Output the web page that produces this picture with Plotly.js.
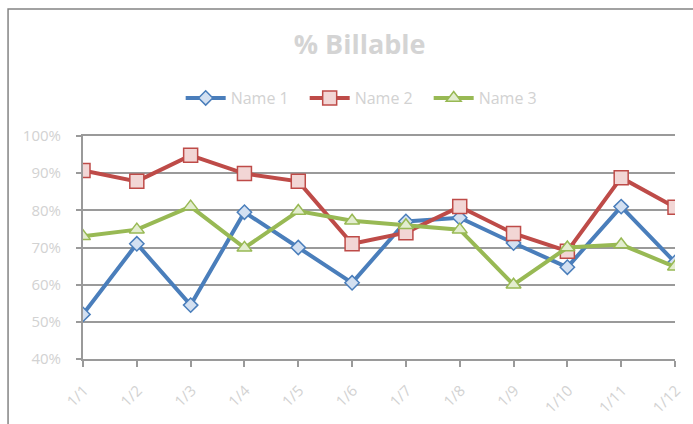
<!DOCTYPE html>
<html>
<head>
<meta charset="utf-8">
<script src="https://cdn.plot.ly/plotly-3.0.1.min.js"></script>
<style>html,body{margin:0;padding:0;background:#fff;}#chart{width:693px;height:424px;}</style>
</head>
<body>
<div id="chart"></div>
<script>
const categories = ["1/1","1/2","1/3","1/4","1/5","1/6","1/7","1/8","1/9","1/10","1/11","1/12"];
const name1 = [0.52,0.71,0.545,0.795,0.70,0.605,0.77,0.78,0.712,0.647,0.81,0.66];
const name2 = [0.907,0.878,0.948,0.899,0.878,0.71,0.74,0.81,0.738,0.69,0.888,0.808];
const name3 = [0.73,0.748,0.81,0.699,0.798,0.772,0.76,0.748,0.60,0.70,0.708,0.648];
const seriesNames = ["Name 1","Name 2","Name 3"];
const yTicks = [0.4,0.5,0.6,0.7,0.8,0.9,1.0];

const colors = ["#4A7EBB","#BE4B48","#98B954"];
const fills = ["#D3E0F1","#F2D6D5","#E3EDCF"];
const symbols = ["diamond","square","triangle-up"];
const sizes = [11,14,13];
const data = [name1,name2,name3].map((vals,i)=>({
  type:"scatter", mode:"lines+markers", name:seriesNames[i],
  x: categories.map((c,j)=>j), y: vals,
  line:{color:colors[i], width:4},
  marker:{symbol:symbols[i], size:sizes[i], color:fills[i], line:{color:colors[i], width:1.5}}
}));

const gridCol = "#9A9A9A";
const txtCol = "#D2D2D2";
const fam = "Open Sans, Liberation Sans, sans-serif";
const layout = {
  width:693, height:424,
  margin:{l:83, r:17.5, t:136, b:65},
  paper_bgcolor:"#fff", plot_bgcolor:"#fff",
  font:{family:fam, color:txtCol, size:15},
  title:{text:"<b>% Billable</b>", x:0.519, xanchor:"center", y:0.896, yanchor:"middle",
         font:{size:27, color:"#D4D4D4", family:fam}},
  showlegend:true,
  legend:{orientation:"h", x:0.165, xanchor:"left", y:1.17, yref:"paper", yanchor:"middle",
          font:{size:16, color:txtCol}, itemwidth:40, entrywidth:69, entrywidthmode:"pixels",
          tracegroupgap:0},
  xaxis:{range:[0,11], tickmode:"array", tickvals:categories.map((c,j)=>j), ticktext:categories,
         tickangle:-45, ticks:"outside", ticklen:6, tickcolor:gridCol, tickwidth:2,
         showline:true, mirror:true, linecolor:gridCol, linewidth:2, showgrid:false, zeroline:false,
         ticklabelstandoff:9, ticklabelshift:1,
         tickfont:{size:15, color:txtCol}, fixedrange:true},
  yaxis:{range:[0.4,1.0], tickmode:"array", tickvals:yTicks, tickformat:".0%",
         ticks:"outside", ticklen:5, tickcolor:gridCol, tickwidth:2,
         showline:true, linecolor:gridCol, linewidth:2, ticklabelstandoff:12,
         showgrid:true, gridcolor:gridCol, gridwidth:2, zeroline:false,
         tickfont:{size:15, color:txtCol}, fixedrange:true},
  shapes:[{type:"rect", xref:"paper", yref:"paper", x0:-0.1266, x1:1.2, y0:-0.5, y1:1.5695,
           line:{color:"#848484", width:1.5}, fillcolor:"rgba(0,0,0,0)", layer:"below"}]
};
Plotly.newPlot("chart", data, layout, {displayModeBar:false, staticPlot:true});
</script>
</body>
</html>
